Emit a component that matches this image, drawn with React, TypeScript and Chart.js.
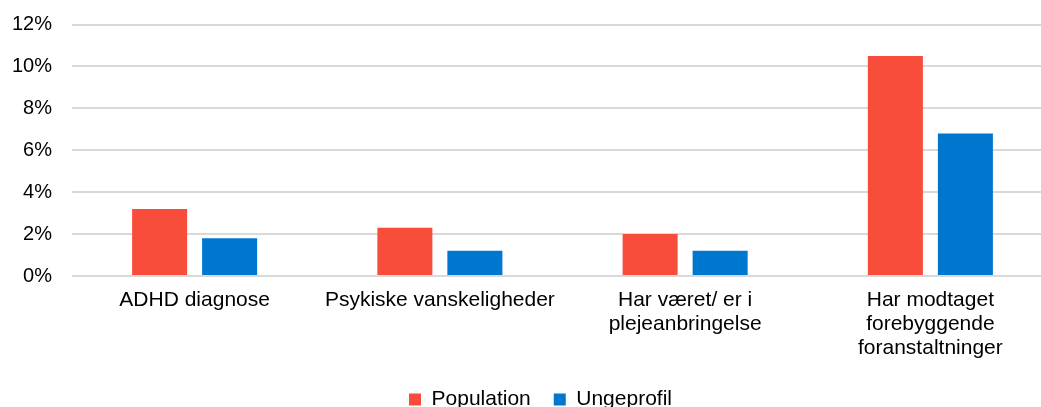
import React, { useEffect, useRef } from "react";
import { Chart, registerables } from "chart.js";

Chart.register(...registerables);

const categories: (string | string[])[] = [
  "ADHD diagnose",
  "Psykiske vanskeligheder",
  ["Har været/ er i", "plejeanbringelse"],
  ["Har modtaget", "forebyggende", "foranstaltninger"],
];
const populationValues = [3.2, 2.3, 2.0, 10.5];
const ungeprofilValues = [1.8, 1.2, 1.2, 6.8];
const yTicks = [0, 2, 4, 6, 8, 10, 12];

const FONT = "'Liberation Sans', Arial, sans-serif";

const legendShift = {
  id: "legendShift",
  afterLayout(chart: any) {
    const lg = chart.legend;
    if (lg) {
      lg.left += 14;
      lg.right += 14;
    }
  },
};

export default function App() {
  const ref = useRef<HTMLCanvasElement | null>(null);
  useEffect(() => {
    document.body.style.margin = "0";
    document.body.style.overflow = "hidden";
    const chart = new Chart(ref.current!, {
      type: "bar",
      data: {
        labels: categories,
        datasets: [
          {
            label: "Population",
            data: populationValues,
            backgroundColor: "#F94D3C",
            borderWidth: 0,
            barPercentage: 0.786,
            categoryPercentage: 0.571,
          },
          {
            label: "Ungeprofil",
            data: ungeprofilValues,
            backgroundColor: "#0077CF",
            borderWidth: 0,
            barPercentage: 0.786,
            categoryPercentage: 0.571,
          },
        ],
      },
      options: {
        animation: false,
        responsive: true,
        maintainAspectRatio: false,
        layout: { padding: { top: 24.5, right: 0, bottom: -13, left: 0 } },
        plugins: {
          tooltip: { enabled: false },
          legend: {
            position: "bottom",
            labels: {
              boxWidth: 12,
              boxHeight: 12,
              padding: 23,
              color: "#000",
              font: { family: FONT, size: 21 },
            },
          },
        },
        scales: {
          x: {
            grid: { display: false, drawTicks: false },
            border: { display: false },
            ticks: {
              color: "#000",
              padding: 12,
              maxRotation: 0,
              autoSkip: false,
              font: { family: FONT, size: 21, lineHeight: 1.15 },
            },
            afterFit: (s: any) => {
              s.height = 90;
            },
          },
          y: {
            min: 0,
            max: 12,
            afterBuildTicks: (s: any) => {
              s.ticks = yTicks.map((v) => ({ value: v }));
            },
            grid: {
              color: "#D9D9D9",
              lineWidth: 2,
              drawTicks: true,
              tickLength: 20,
              tickColor: "rgba(0,0,0,0)",
            },
            border: { display: false },
            ticks: {
              color: "#000",
              padding: 0,
              font: { family: FONT, size: 20 },
              callback: (v: any) => `${v}%`,
            },
            afterFit: (s: any) => {
              s.width = 72;
            },
          },
        },
      },
      plugins: [legendShift],
    });
    return () => chart.destroy();
  }, []);
  return (
    <div style={{ width: 1053, height: 407, position: "relative" }}>
      <canvas ref={ref} />
    </div>
  );
}
